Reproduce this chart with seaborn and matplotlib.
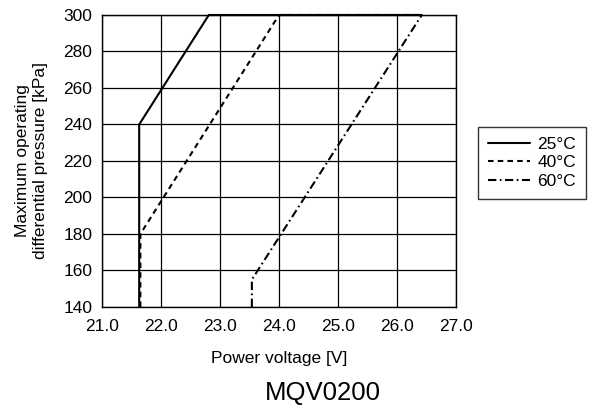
import matplotlib
matplotlib.use("Agg")
import matplotlib.pyplot as plt
import seaborn as sns
import pandas as pd

# --- data ---
v25 = [21.63, 21.63, 22.81, 26.42]
p25 = [140, 240, 300, 300]
v40 = [21.65, 21.65, 24.0, 26.42]
p40 = [140, 180, 300, 300]
v60 = [23.54, 23.54, 26.42]
p60 = [140, 155, 300]
labels = ["25°C", "40°C", "60°C"]
xticks = [21.0, 22.0, 23.0, 24.0, 25.0, 26.0, 27.0]
yticks = [140, 160, 180, 200, 220, 240, 260, 280, 300]

sns.set_style("white")
plt.rcParams["font.family"] = ["Liberation Sans", "DejaVu Sans"]
plt.rcParams["lines.scale_dashes"] = False
plt.rcParams["text.color"] = "black"
plt.rcParams["axes.labelcolor"] = "black"

fig = plt.figure(figsize=(5.89, 4.05), dpi=100)
ax = fig.add_axes([0.1732, 0.242, 0.601, 0.721])

styles = ["-", (0, (4.0, 3.0)), (0, (6.0, 2.5, 1.2, 2.5))]
series = [(v25, p25), (v40, p40), (v60, p60)]
for (vx, py), lab, ls in zip(series, labels, styles):
    df = pd.DataFrame({"v": vx, "p": py})
    sns.lineplot(data=df, x="v", y="p", sort=False, estimator=None,
                 color="black", lw=1.5, linestyle=ls, label=lab, ax=ax,
                 clip_on=False, zorder=3)

ax.set_xlim(21.0, 27.0)
ax.set_ylim(140, 300)
ax.set_xticks(xticks)
ax.set_xticklabels([f"{t:.1f}" for t in xticks])
ax.set_yticks(yticks)
ax.grid(True, color="black", lw=0.9)
ax.set_axisbelow(True)
for s in ax.spines.values():
    s.set_color("black")
    s.set_linewidth(1.0)
ax.tick_params(length=0, labelsize=12.5, colors="black")
ax.tick_params(axis="x", pad=9)
ax.tick_params(axis="y", pad=7)
ax.set_xlabel("Power voltage [V]", fontsize=12.5, color="black")
ax.set_ylabel("Maximum operating\ndifferential pressure [kPa]", fontsize=12.5,
              linespacing=1.25, color="black")
ax.xaxis.set_label_coords(0.5, -0.152)
ax.yaxis.set_label_coords(-0.153, 0.5)

ax.get_legend().remove()
h, l = ax.get_legend_handles_labels()
leg = fig.legend(h, l, loc="upper left", bbox_to_anchor=(0.812, 0.686),
                 frameon=True, fancybox=False, fontsize=12.5, handlelength=2.45,
                 borderpad=0.55, labelspacing=0.2, handletextpad=0.4,
                 borderaxespad=0)
leg.get_frame().set_edgecolor("black")
leg.get_frame().set_linewidth(1.0)
for t in leg.get_texts():
    t.set_color("black")

fig.text(0.5475, 0.0123, "MQV0200", ha="center", va="baseline", fontsize=18.5,
         color="black")

fig.savefig("out.png", dpi=100)
